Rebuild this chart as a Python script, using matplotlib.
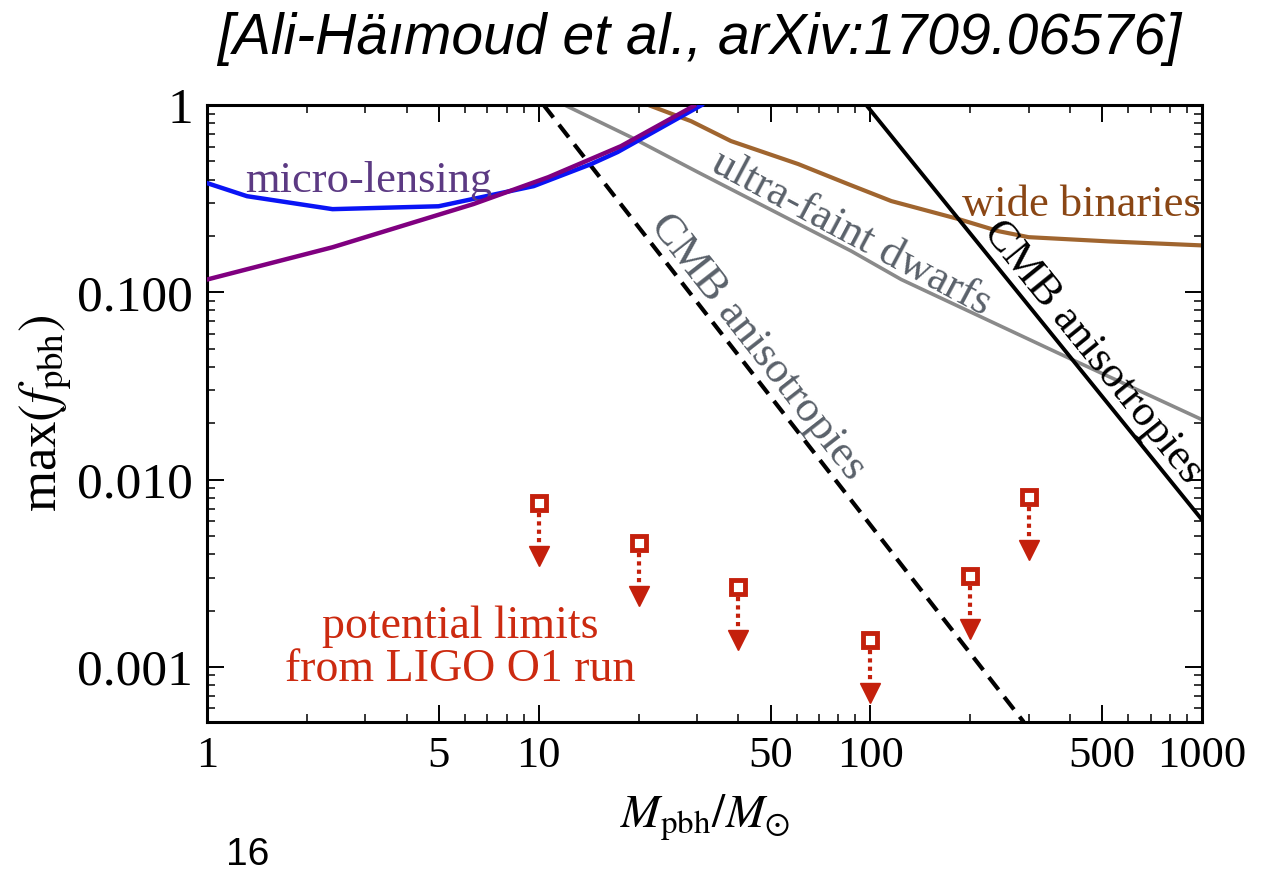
import matplotlib
matplotlib.use("Agg")
import matplotlib.pyplot as plt
from matplotlib.ticker import FixedLocator, FixedFormatter, NullFormatter
import numpy as np

plt.rcParams['font.family'] = ['Liberation Serif', 'DejaVu Serif']
plt.rcParams['mathtext.fontset'] = 'stix'

# constraint curves (M in solar masses, max f_pbh)
micro_m = [1.0, 1.32, 2.39, 4.99, 9.66, 14.4, 17.3, 31.0]
micro_f = [0.383, 0.326, 0.278, 0.288, 0.369, 0.484, 0.561, 1.0]

eros_m = [1.0, 2.39, 6.36, 10.7, 17.7, 29.4]
eros_f = [0.117, 0.174, 0.296, 0.412, 0.603, 0.99]

ufd_m = [11.98, 18.97, 30.2, 87.6, 124.0, 405.0, 1000.0]
ufd_f = [1.0, 0.674, 0.438, 0.166, 0.117, 0.0438, 0.0209]

wide_m = [21.8, 28.8, 38.0, 60.6, 85.8, 115.7, 184.5, 243.6, 300.0, 523.0, 1000.0]
wide_f = [0.988, 0.82, 0.642, 0.484, 0.378, 0.307, 0.246, 0.212, 0.197, 0.187, 0.178]

cmb_dash_m = [10.35, 290.0]
cmb_dash_f = [1.0, 0.000508]

cmb_solid_m = [97.2, 1000.0]
cmb_solid_f = [1.0, 0.0061]

# LIGO O1 potential upper limits
ligo_m = [10, 20, 40, 100, 200, 300]
ligo_f = [0.00753, 0.0046, 0.00268, 0.00139, 0.00307, 0.0081]

xticks = [1, 5, 10, 50, 100, 500, 1000]
xticklabels = ['1', '5', '10', '50', '100', '500', '1000']
yticks = [0.001, 0.01, 0.1, 1]
yticklabels = ['0.001', '0.010', '0.100', '1']

red = '#c4200c'

fig = plt.figure(figsize=(12.67, 8.73), dpi=100)
ax = fig.add_axes([0.1634, 0.173, 0.7853, 0.7067])

ax.plot(micro_m, micro_f, color='#0a14f5', lw=3.2, zorder=3)
ax.plot(eros_m, eros_f, color='#800080', lw=3.2, zorder=4)
ax.plot(ufd_m, ufd_f, color='#8a8a8a', lw=2.6)
ax.plot(wide_m, wide_f, color='#a0652f', lw=3.0)
ax.plot(cmb_dash_m, cmb_dash_f, color='black', lw=3.0, dashes=(3.8, 2.2))
ax.plot(cmb_solid_m, cmb_solid_f, color='black', lw=2.8)

for m, f in zip(ligo_m, ligo_f):
    ax.plot([m, m], [f * 0.88, f * 0.6], color=red, lw=3.0, linestyle=(0, (1, 1)))
    ax.plot(m, f * 0.52, marker='v', ms=15, color=red, mec=red)
    ax.plot(m, f, marker='s', ms=10, mfc='white', mec=red, mew=3.5)

ax.set_xscale('log')
ax.set_yscale('log')
ax.set_xlim(1, 1000)
ax.set_ylim(0.000508, 1)

ax.xaxis.set_major_locator(FixedLocator(xticks))
ax.xaxis.set_major_formatter(FixedFormatter(xticklabels))
xminor = [k * 10**e for e in range(3) for k in range(2, 10) if k != 5]
ax.xaxis.set_minor_locator(FixedLocator(xminor))
ax.xaxis.set_minor_formatter(NullFormatter())
ax.yaxis.set_major_locator(FixedLocator(yticks))
ax.yaxis.set_major_formatter(FixedFormatter(yticklabels))
yminor = [k * 10.0**e for e in range(-4, 0) for k in range(2, 10)]
ax.yaxis.set_minor_locator(FixedLocator(yminor))
ax.yaxis.set_minor_formatter(NullFormatter())

ax.tick_params(which='both', direction='in', top=True, right=True, pad=10)
ax.tick_params(axis='x', labelsize=32)
ax.tick_params(axis='y', labelsize=37)
ax.tick_params(which='major', length=12, width=1.4)
ax.tick_params(which='minor', length=6, width=1.1)
for s in ax.spines.values():
    s.set_linewidth(2.2)

ax.set_xlabel(r'$M_{\rm pbh}/M_{\odot}$', fontsize=34, labelpad=12)
ax.set_ylabel(r'max$(f_{\rm pbh})$', fontsize=38, labelpad=3)

ax.text(1.30, 0.343, 'micro-lensing', color='#5c3a83', fontsize=32, ha='left', va='baseline')
ax.text(990, 0.255, 'wide binaries', color='#8a4614', fontsize=32, ha='right', va='baseline')
ax.text(87.6, 0.206, 'ultra-faint dwarfs', color='#5a616a', fontsize=32, rotation=-28,
        ha='center', va='center', rotation_mode='anchor')
ax.text(45.9, 0.0514, 'CMB anisotropies', color='#5a616a', fontsize=32, rotation=-52,
        ha='center', va='center', rotation_mode='anchor')
ax.text(470, 0.0483, 'CMB anisotropies', color='black', fontsize=32, rotation=-51,
        ha='center', va='center', rotation_mode='anchor')
ax.text(5.81, 0.00126, 'potential limits\nfrom LIGO O1 run', color='#cc2a10', fontsize=33,
        ha='center', va='center', multialignment='center', linespacing=1.0)

fig.text(0.552, 0.955, '[Ali-Häımoud et al., arXiv:1709.06576]', fontsize=41,
         family=['Liberation Sans', 'DejaVu Sans'], style='italic', ha='center', va='center')
fig.text(0.178, 0.0, '16', fontsize=28, family=['Liberation Sans', 'DejaVu Sans'],
         ha='left', va='bottom')

fig.savefig('out.png', dpi=100)
